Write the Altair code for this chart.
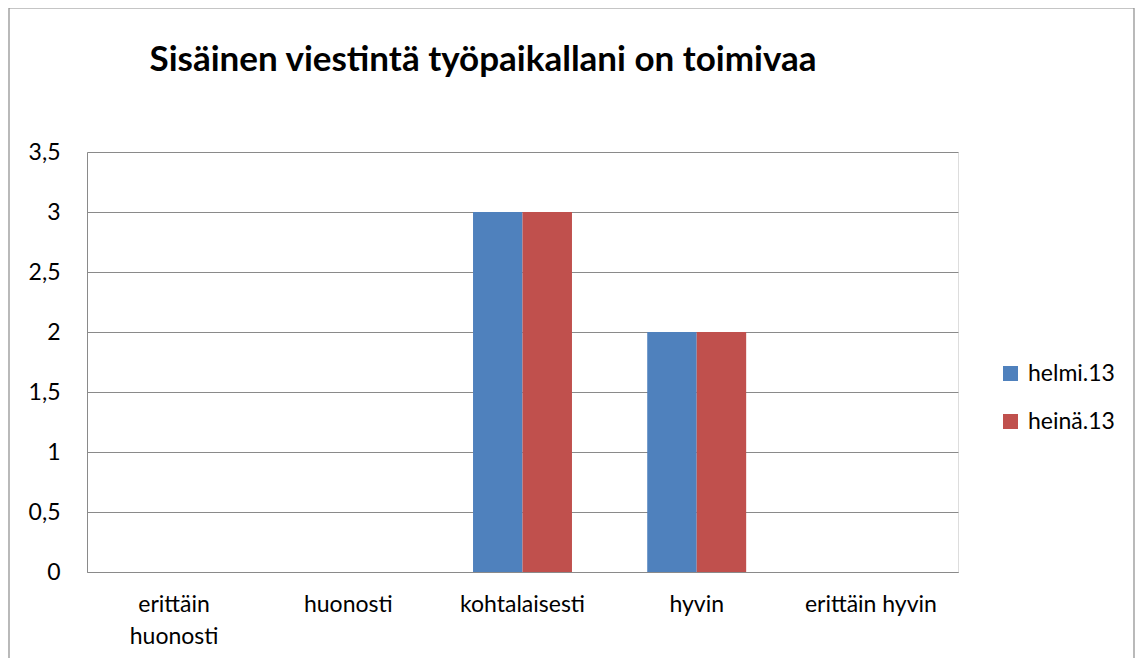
import altair as alt
import pandas as pd

categories = ["erittäin huonosti", "huonosti", "kohtalaisesti", "hyvin", "erittäin hyvin"]
series = ["helmi.13", "heinä.13"]
helmi_13 = [0, 0, 3, 2, 0]
heina_13 = [0, 0, 3, 2, 0]
y_ticks = [0, 0.5, 1, 1.5, 2, 2.5, 3, 3.5]
colors = ["#4F81BD", "#C0504D"]
title_text = "Sisäinen viestintä työpaikallani on toimivaa"

rows = []
for c, v in zip(categories, helmi_13):
    rows.append({"kategoria": c, "sarja": series[0], "arvo": v})
for c, v in zip(categories, heina_13):
    rows.append({"kategoria": c, "sarja": series[1], "arvo": v})
df = pd.DataFrame(rows)

FONT = "Lato"
GRID = "#8a8a8a"
LBL = 23

bars = alt.Chart(df).mark_bar().encode(
    x=alt.X(
        "kategoria:N",
        sort=categories,
        scale=alt.Scale(paddingInner=0.432, paddingOuter=0.216),
        axis=alt.Axis(
            title=None,
            labelAngle=0,
            ticks=False,
            domain=True,
            domainColor=GRID,
            labelFont=FONT,
            labelFontSize=LBL,
            labelColor="#000000",
            labelPadding=21,
            labelBaseline="top",
            labelLineHeight=32,
            labelExpr="datum.label == 'erittäin huonosti' ? ['erittäin', 'huonosti'] : datum.label",
        ),
    ),
    xOffset=alt.XOffset("sarja:N", sort=series, scale=alt.Scale(paddingInner=0, paddingOuter=0)),
    y=alt.Y(
        "arvo:Q",
        scale=alt.Scale(domain=[0, 3.5], nice=False),
        axis=alt.Axis(
            title=None,
            values=y_ticks,
            format="~g",
            labelExpr="replace(datum.label, '.', ',')",
            ticks=False,
            domain=True,
            domainColor=GRID,
            grid=True,
            gridColor=GRID,
            gridWidth=1,
            labelFont=FONT,
            labelFontSize=LBL,
            labelColor="#000000",
            labelPadding=27,
        ),
    ),
    color=alt.Color(
        "sarja:N",
        sort=series,
        scale=alt.Scale(domain=series, range=colors),
        legend=alt.Legend(
            title=None,
            orient="none",
            legendX=912,
            legendY=210,
            symbolType="square",
            symbolSize=225,
            symbolStrokeWidth=0,
            labelFont=FONT,
            labelFontSize=LBL,
            labelColor="#000000",
            labelOffset=6,
            rowPadding=24,
        ),
    ),
)

border = alt.Chart(alt.Data(values=[{"k": 1}])).mark_rect(
    fill=None, stroke="#8c8c8c", strokeWidth=1.2
).encode(
    x=alt.value(-78), x2=alt.value(1047), y=alt.value(-144), y2=alt.value(760)
)

title = alt.Chart(alt.Data(values=[{"t": title_text}])).mark_text(
    font=FONT, fontSize=35, fontWeight="bold", color="#000000",
    align="center", baseline="alphabetic",
).encode(
    text="t:N", x=alt.value(396), y=alt.value(-81)
)

chart = alt.layer(border, bars, title).properties(
    width=871,
    height=420,
    padding={"left": 79, "top": 144, "right": 178, "bottom": 86},
    autosize=alt.AutoSizeParams(type="none"),
).configure_view(stroke=None).configure(background="white")

chart.save("out.html", embed_options={"renderer": "svg", "actions": False})
